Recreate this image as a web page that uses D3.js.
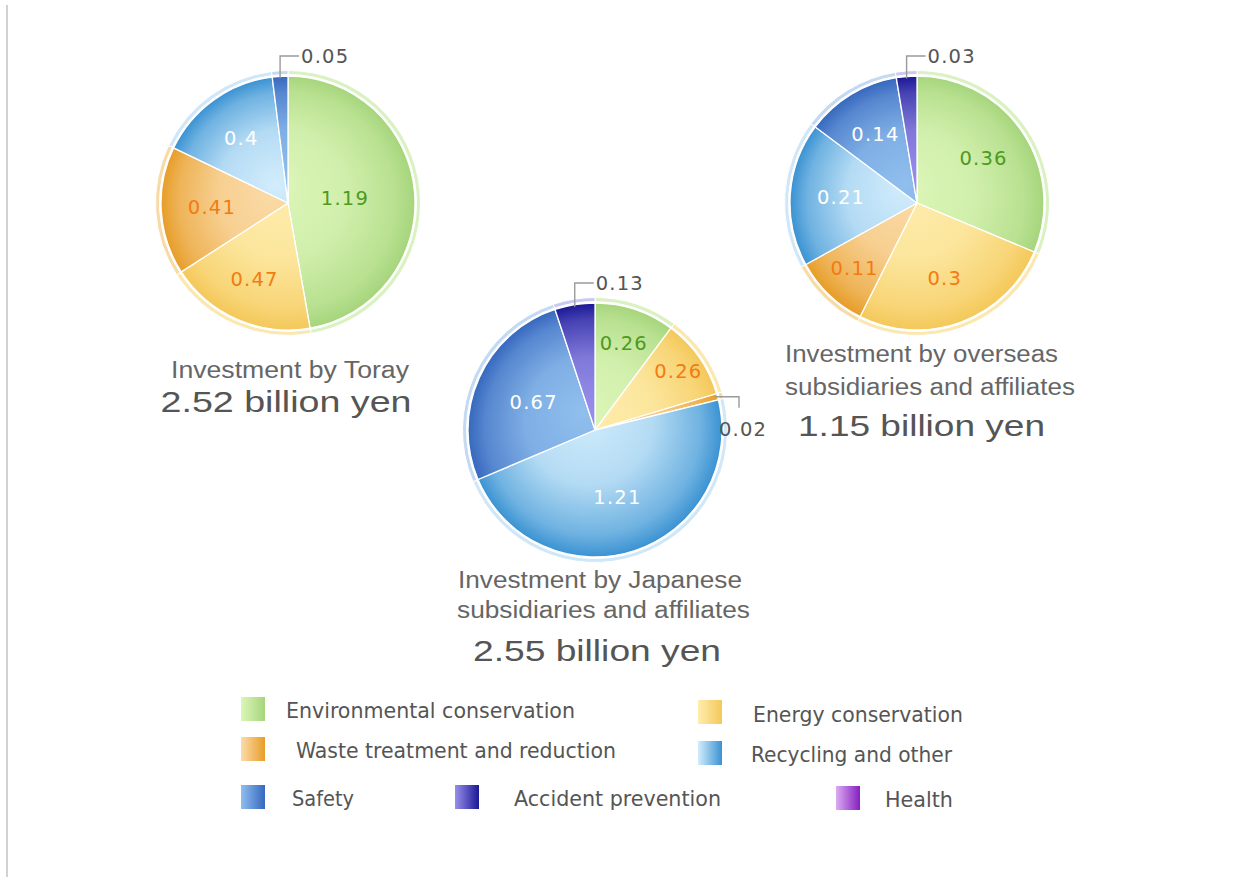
<!DOCTYPE html>
<html>
<head>
<meta charset="utf-8">
<script src="https://cdn.jsdelivr.net/npm/d3@7"></script>
<style>
  html, body { margin: 0; padding: 0; background: #fff; }
  svg { display: block; }
</style>
</head>
<body>
<svg id="chart" width="1233" height="877"></svg>
<script>
// ---- data ----
const categories = [
  "Environmental conservation",
  "Energy conservation",
  "Waste treatment and reduction",
  "Recycling and other",
  "Safety",
  "Accident prevention",
  "Health"
];
const torayValues    = [1.19, 0.47, 0.41, 0.40, 0.05, 0, 0];
const japanValues    = [0.26, 0.26, 0.02, 1.21, 0.67, 0.13, 0];
const overseasValues = [0.36, 0.30, 0.11, 0.21, 0.14, 0.03, 0];
const torayTitle    = ["Investment by Toray"];
const japanTitle    = ["Investment by Japanese", "subsidiaries and affiliates"];
const overseasTitle = ["Investment by overseas", "subsidiaries and affiliates"];
const unitLabel = "billion yen";

// ---- styling ----
const palette = [
  { light: "#dcf6b8", dark: "#a6d57c", rim: "#daf1c2", text: "#4e9a1c" },
  { light: "#feedae", dark: "#f4c85a", rim: "#fbe8b0", text: "#f27b12" },
  { light: "#fbdcaa", dark: "#e79d28", rim: "#f8daa6", text: "#f27b12" },
  { light: "#d2edfc", dark: "#3a92d2", rim: "#d0e7f8", text: "#ffffff" },
  { light: "#90bfee", dark: "#3668be", rim: "#c4daf2", text: "#ffffff" },
  { light: "#9890ea", dark: "#1a1896", rim: "#cacaf0", text: "#ffffff" },
  { light: "#dcaaf2", dark: "#8420c0", rim: "#e8d0f6", text: "#ffffff" }
];

// pie placement, label radii (fraction of radius) and title line placement
const pies = [
  { id: "toray", values: torayValues, title: torayTitle, cx: 288, cy: 203, r: 127,
    labelK: [0.45, 0.66, 0.6, 0.63, 0, 0, 0], leaders: { 4: "up" },
    lines: [ { x: 290, y: 378, w: 238, size: 23 }, { x: 286, y: 412, w: 251, size: 30 } ] },
  { id: "japan", values: japanValues, title: japanTitle, cx: 595, cy: 430, r: 127,
    labelK: [0.72, 0.8, 0, 0.56, 0.53, 0, 0], leaders: { 2: "right", 5: "up" },
    lines: [ { x: 600, y: 588, w: 284, size: 23 }, { x: 603.5, y: 618, w: 293, size: 23 },
             { x: 597, y: 661, w: 248, size: 30 } ] },
  { id: "overseas", values: overseasValues, title: overseasTitle, cx: 917, cy: 203, r: 127,
    labelK: [0.63, 0.63, 0.71, 0.6, 0.63, 0, 0], leaders: { 5: "up" },
    lines: [ { x: 921.5, y: 362, w: 273, size: 23 }, { x: 930, y: 395, w: 290, size: 23 },
             { x: 921.5, y: 436, w: 247, size: 30 } ] }
];

// legend placement: swatch corner, text start, baseline, text width
const legendLayout = [
  { sx: 241, sy: 697, tx: 286, ty: 718, w: 289 },
  { sx: 698, sy: 700, tx: 753, ty: 722, w: 210 },
  { sx: 241, sy: 737, tx: 296, ty: 758, w: 320 },
  { sx: 698, sy: 741, tx: 751, ty: 762, w: 201 },
  { sx: 241, sy: 785, tx: 292, ty: 806, w: 62 },
  { sx: 455, sy: 785, tx: 514, ty: 806, w: 207 },
  { sx: 836, sy: 786, tx: 885, ty: 807, w: 68 }
];

const svg = d3.select("#chart");
const defs = svg.append("defs");

// left frame line
svg.append("line")
  .attr("x1", 7).attr("x2", 7).attr("y1", 5).attr("y2", 877)
  .attr("stroke", "#d2d2d2").attr("stroke-width", 2);

const labelFont = "'DejaVu Sans', Verdana, sans-serif";
const titleFont = "'Liberation Sans', Arial, Helvetica, sans-serif";

pies.forEach(p => {
  const items = p.values.map((v, i) => ({ value: v, cat: i })).filter(d => d.value > 0);
  const arcs = d3.pie().sort(null).value(d => d.value)(items);
  const arc = d3.arc().innerRadius(0).outerRadius(p.r);
  const rimArc = d3.arc().innerRadius(p.r + 1.5).outerRadius(p.r + 5.5);

  // radial shading for each category, centred on the pie's own origin
  palette.forEach((c, i) => {
    const g = defs.append("radialGradient")
      .attr("id", `g-${p.id}-${i}`)
      .attr("gradientUnits", "userSpaceOnUse")
      .attr("cx", 0).attr("cy", 0).attr("r", p.r)
      .attr("fx", -p.r * 0.1).attr("fy", -p.r * 0.15);
    g.append("stop").attr("offset", 0).attr("stop-color", c.light);
    g.append("stop").attr("offset", 0.5).attr("stop-color", d3.interpolateRgb(c.light, c.dark)(0.2));
    g.append("stop").attr("offset", 0.85).attr("stop-color", d3.interpolateRgb(c.light, c.dark)(0.65));
    g.append("stop").attr("offset", 1).attr("stop-color", c.dark);
  });

  const g = svg.append("g").attr("transform", `translate(${p.cx},${p.cy})`);

  g.selectAll("path.rim").data(arcs).join("path")
    .attr("class", "rim")
    .attr("d", rimArc)
    .attr("fill", d => palette[d.data.cat].rim)
    .attr("stroke", "#fff").attr("stroke-width", 1);

  g.selectAll("path.slice").data(arcs).join("path")
    .attr("class", "slice")
    .attr("d", arc)
    .attr("fill", d => `url(#g-${p.id}-${d.data.cat})`)
    .attr("stroke", "#fff").attr("stroke-width", 1.3);

  // value labels
  arcs.forEach(d => {
    const cat = d.data.cat;
    const leader = p.leaders[cat];
    const txt = String(d.data.value);
    if (!leader) {
      const k = p.labelK[cat] * p.r;
      const [x, y] = d3.arc().innerRadius(k).outerRadius(k).centroid(d);
      g.append("text")
        .attr("x", x).attr("y", y)
        .attr("text-anchor", "middle").attr("dominant-baseline", "central")
        .attr("font-family", labelFont).attr("font-size", 19.5)
        .attr("letter-spacing", 1.2)
        .attr("fill", palette[cat].text)
        .text(txt);
    } else {
      const a = (d.startAngle + d.endAngle) / 2;
      const px = p.r * Math.sin(a), py = -p.r * Math.cos(a);
      let pts, tx, ty, anchor;
      if (leader === "up") {
        const top = -p.r - 20;
        pts = [[px, py + 2], [px, top], [px + 19, top]];
        tx = px + 21; ty = top; anchor = "start";
      } else {
        const xr = p.r + 17;
        pts = [[px - 2, py], [xr, py], [xr, py + 11]];
        tx = xr + 4; ty = py + 33; anchor = "middle";
      }
      g.append("path")
        .attr("d", d3.line()(pts))
        .attr("fill", "none").attr("stroke", "#9a9a9a").attr("stroke-width", 1.4);
      g.append("text")
        .attr("x", tx).attr("y", ty)
        .attr("text-anchor", anchor).attr("dominant-baseline", "central")
        .attr("font-family", labelFont).attr("font-size", 19.5)
        .attr("letter-spacing", 1.2)
        .attr("fill", "#555")
        .text(txt);
    }
  });

  // title lines and total
  const total = d3.sum(p.values).toFixed(2) + " " + unitLabel;
  const texts = p.title.concat([total]);
  texts.forEach((t, i) => {
    const L = p.lines[i];
    svg.append("text")
      .attr("x", L.x).attr("y", L.y)
      .attr("text-anchor", "middle")
      .attr("font-family", titleFont).attr("font-size", L.size)
      .attr("textLength", L.w).attr("lengthAdjust", "spacingAndGlyphs")
      .attr("fill", i === texts.length - 1 ? "#555" : "#666")
      .text(t);
  });
});

// legend
categories.forEach((name, i) => {
  const c = palette[i];
  const L = legendLayout[i];
  const lg = defs.append("linearGradient").attr("id", `lg-${i}`)
    .attr("x1", 0).attr("x2", 1).attr("y1", 0).attr("y2", 0);
  lg.append("stop").attr("offset", 0).attr("stop-color", c.light);
  lg.append("stop").attr("offset", 1).attr("stop-color", c.dark);
  svg.append("rect")
    .attr("x", L.sx).attr("y", L.sy).attr("width", 24).attr("height", 24)
    .attr("fill", `url(#lg-${i})`);
  svg.append("text")
    .attr("x", L.tx).attr("y", L.ty)
    .attr("font-family", "'DejaVu Sans Condensed', 'DejaVu Sans', sans-serif")
    .attr("font-stretch", "condensed")
    .attr("font-size", 21)
    .attr("textLength", L.w).attr("lengthAdjust", "spacingAndGlyphs")
    .attr("fill", "#555")
    .text(name);
});
</script>
</body>
</html>
